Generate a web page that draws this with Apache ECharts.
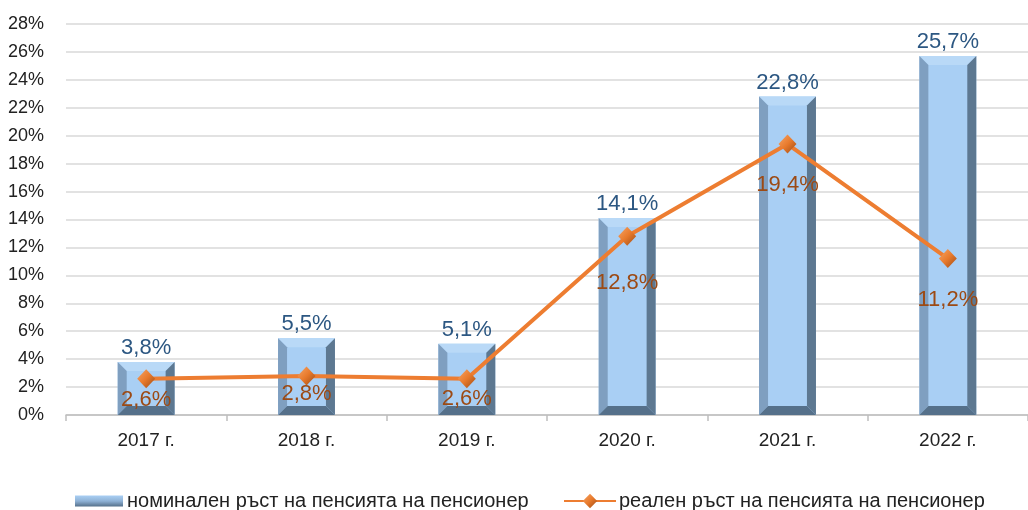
<!DOCTYPE html>
<html>
<head>
<meta charset="utf-8">
<script src="https://cdn.jsdelivr.net/npm/echarts@6/dist/echarts.min.js"></script>
<style>
    html, body { margin: 0; padding: 0; background: #fff; }
    #myChart { width: 1028px; height: 510px; }
</style>
</head>
<body>
<div id="myChart"></div>
<script>
    // data
    var years = ['2017 г.', '2018 г.', '2019 г.', '2020 г.', '2021 г.', '2022 г.'];
    var nominal = [3.8, 5.5, 5.1, 14.1, 22.8, 25.7];
    var real = [2.6, 2.8, 2.6, 12.8, 19.4, 11.2];
    var yTicks = [0, 2, 4, 6, 8, 10, 12, 14, 16, 18, 20, 22, 24, 26, 28];

    // how far under the point each real-growth label sits (px)
    var realLabelGap = [1, -2, 0, 26, 20, 21];

    var narrow = "'Liberation Sans Narrow', 'Arial Narrow', 'Liberation Sans', sans-serif";
    var normal = "'Liberation Sans', Arial, sans-serif";

    var nomName = 'номинален ръст на пенсията на пенсионер';
    var realName = 'реален ръст на пенсията на пенсионер';

    function pct(v) {
        return String(v).replace('.', ',') + '%';
    }

    function bevelBar(params, api) {
        var top = api.coord([api.value(0), api.value(1)]);
        var base = api.coord([api.value(0), 0]);
        var w = api.size([1, 0])[0] * 0.355;
        var x0 = top[0] - w / 2, x1 = top[0] + w / 2;
        var y0 = top[1], y1 = base[1];
        var b = 9;
        return {
            type: 'group',
            children: [
                {type: 'rect', shape: {x: x0, y: y0, width: w, height: y1 - y0}, style: {fill: '#a9cff4'}},
                {type: 'polygon', shape: {points: [[x0, y0], [x1, y0], [x1 - b, y0 + b], [x0 + b, y0 + b]]}, style: {fill: '#b9d9f7'}},
                {type: 'polygon', shape: {points: [[x0, y0], [x0 + b, y0 + b], [x0 + b, y1 - b], [x0, y1]]}, style: {fill: '#7f9fc0'}},
                {type: 'polygon', shape: {points: [[x1, y0], [x1 - b, y0 + b], [x1 - b, y1 - b], [x1, y1]]}, style: {fill: '#5d7891'}},
                {type: 'polygon', shape: {points: [[x0, y1], [x0 + b, y1 - b], [x1 - b, y1 - b], [x1, y1]]}, style: {fill: '#55708a'}},
                {
                    type: 'text',
                    style: {
                        text: pct(api.value(1)),
                        x: top[0], y: y0 - 3,
                        align: 'center', verticalAlign: 'bottom',
                        fill: '#2c5782',
                        font: '22px ' + normal
                    }
                }
            ]
        };
    }

    var myChart = echarts.init(document.getElementById('myChart'));
    myChart.setOption({
        animation: false,
        grid: {left: 66, top: 24, width: 972, bottom: 95},
        legend: [
            {
                left: 70,
                top: 486,
                itemWidth: 48,
                itemHeight: 11,
                itemGap: 4,
                textStyle: {fontSize: 20, color: '#222', fontFamily: normal, padding: [0, 0, 0, -1]},
                data: [{name: nomName, icon: 'rect'}]
            },
            {
                left: 558,
                top: 486,
                itemWidth: 52,
                itemHeight: 18,
                textStyle: {fontSize: 20, color: '#222', fontFamily: normal, padding: [0, 0, 0, -2]},
                data: [{name: realName}]
            }
        ],
        xAxis: {
            type: 'category',
            data: years,
            axisLine: {lineStyle: {color: '#bfbfbf', width: 1.5}},
            axisTick: {show: true, length: 6, lineStyle: {color: '#bfbfbf', width: 1.5}},
            axisLabel: {fontSize: 19, color: '#222', fontFamily: narrow, margin: 16}
        },
        yAxis: {
            type: 'value',
            min: yTicks[0],
            max: yTicks[yTicks.length - 1],
            interval: 2,
            axisLine: {show: false},
            axisTick: {show: false},
            splitLine: {lineStyle: {color: '#d9d9d9', width: 1.5}},
            axisLabel: {
                fontSize: 18, color: '#222', fontFamily: narrow, margin: 22,
                formatter: '{value}%'
            }
        },
        series: [
            {
                name: nomName,
                type: 'custom',
                renderItem: bevelBar,
                itemStyle: {
                    color: new echarts.graphic.LinearGradient(0, 0, 0, 1, [
                        {offset: 0, color: '#a9cff4'},
                        {offset: 0.5, color: '#8fb2d6'},
                        {offset: 1, color: '#55708a'}
                    ])
                },
                encode: {x: 0, y: 1},
                data: nominal.map(function (v, i) { return [i, v]; }),
                z: 2
            },
            {
                name: realName,
                type: 'line',
                symbol: 'diamond',
                symbolSize: [18, 19],
                lineStyle: {color: '#ed7d31', width: 4},
                itemStyle: {
                    color: new echarts.graphic.LinearGradient(0, 0, 1, 1, [
                        {offset: 0, color: '#f6a566'},
                        {offset: 0.5, color: '#e87a2c'},
                        {offset: 1, color: '#9c4a14'}
                    ])
                },
                data: real.map(function (v, i) {
                    return {
                        value: v,
                        label: {distance: realLabelGap[i]}
                    };
                }),
                label: {
                    show: true,
                    position: 'bottom',
                    fontSize: 22,
                    color: '#9c4a14',
                    fontFamily: normal,
                    formatter: function (p) { return pct(p.value); }
                },
                z: 5
            }
        ]
    });
</script>
</body>
</html>
